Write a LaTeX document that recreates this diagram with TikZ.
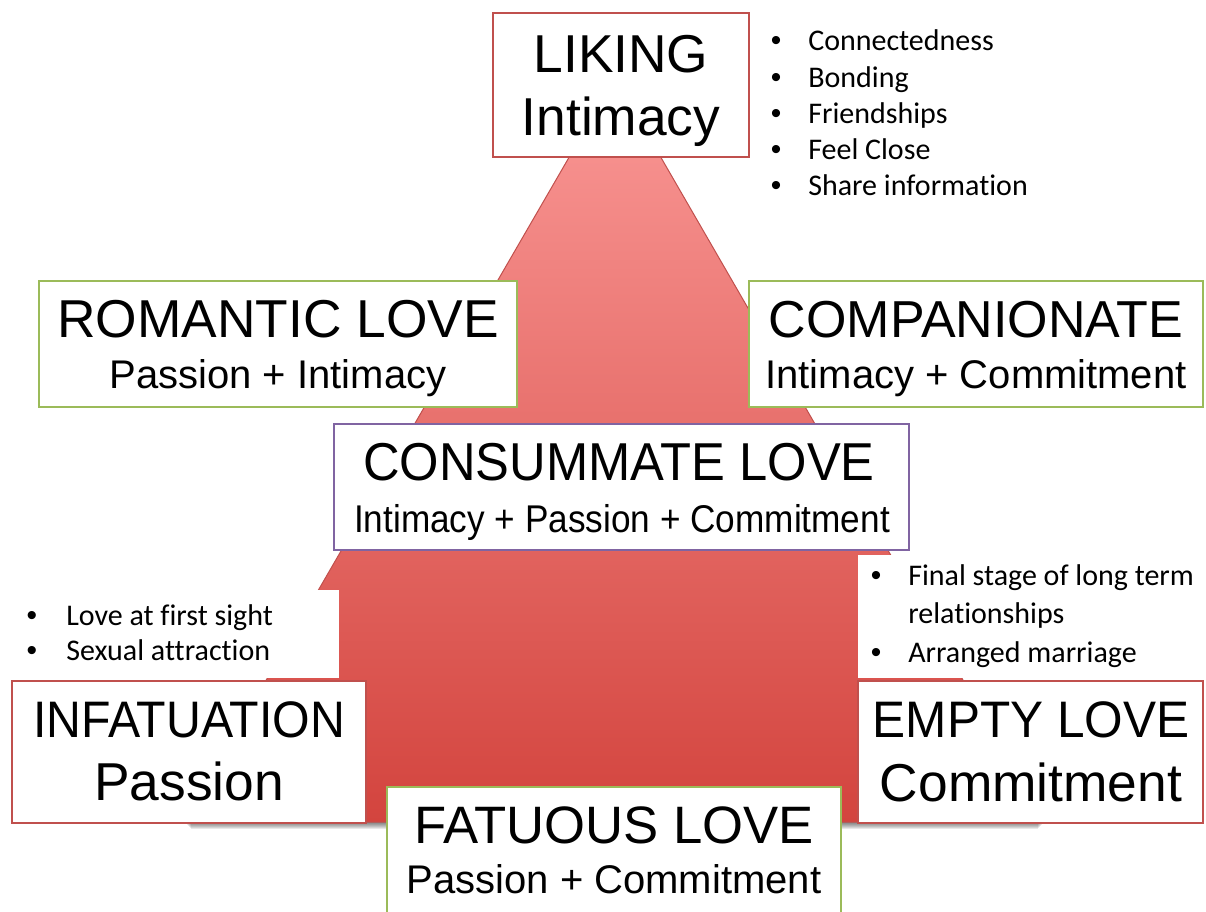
\documentclass[tikz,border=0pt]{standalone}
\usepackage{fontspec}
\setmainfont{Liberation Sans}
\newfontfamily\bulfont[Ligatures=NoCommon]{Carlito}
\usepackage{graphicx}
\usetikzlibrary{fit,calc}
\definecolor{boxred}{RGB}{192,80,77}
\definecolor{boxgreen}{RGB}{155,187,89}
\definecolor{boxpurple}{RGB}{128,100,162}
\definecolor{tritop}{RGB}{250,152,150}
\definecolor{trimid}{RGB}{240,128,128}
\definecolor{tribot}{RGB}{211,68,62}
\begin{document}
\begin{tikzpicture}[x=0.75pt,y=-0.75pt,
  box/.style={draw=#1, fill=white, line width=1.5pt, inner sep=0pt},
  big/.style={anchor=base, inner sep=0pt, font=\fontsize{40}{48}\selectfont},
  small/.style={anchor=base, inner sep=0pt, font=\fontsize{30}{36}\selectfont},
  bultxt/.style={anchor=base west, inner sep=0pt, font=\bulfont\fontsize{22.5}{27}\selectfont},
  buldot/.style={anchor=base, inner sep=0pt, font=\fontsize{22.5}{27}\selectfont}]
\useasboundingbox (0,0) rectangle (1206,911);
\clip (0,0) rectangle (1206,911);
% pyramid
\coordinate (apex) at (615,78);
\coordinate (bl) at (184,822);
\coordinate (br) at (1045,822);
\foreach \i in {1,...,7}{
  \fill[black, opacity=0.09] ($(bl)+(\i,0)$) rectangle ($(br)+(-\i,\i)$);
}
\shade[top color=tritop, middle color=trimid, bottom color=tribot, draw=boxred, line width=0.75pt]
  (apex) -- (br) -- (bl) -- cycle;
% white backgrounds of bullet lists
\fill[white] (0,590) rectangle (339,678);
\fill[white] (858,555) rectangle (1206,678);
% boxes
\node[box=boxred, fit={(493,13) (749,157)}] (liking) {};
\node[box=boxgreen, fit={(39,281) (517,407)}] (romantic) {};
\node[box=boxgreen, fit={(749,281) (1203,407)}] (companionate) {};
\node[box=boxpurple, fit={(334,424) (909,550)}] (consummate) {};
\node[box=boxred, fit={(12,681) (366,823)}] (infatuation) {};
\node[box=boxred, fit={(858,681) (1203,823)}] (empty) {};
\node[box=boxgreen, fit={(387,787) (841,930)}] (fatuous) {};
% box texts
\node[big] (likingA) at (621,72) {LIKING};
\node[big] (likingB) at (621,135) {Intimacy};
\node[big] (romanticA) at (278,337) {ROMANTIC LOVE};
\node[small] (romanticB) at (278,388) {Passion + Intimacy};
\node[big, font=\fontsize{39}{46}\selectfont] (companionateA) at (976,337) {COMPANIONATE};
\node[small] (companionateB) at (976,388) {Intimacy + Commitment};
\node[big] (consummateA) at (619,480) {\scalebox{0.95}[1]{CONSUMMATE LOVE}};
\node[small, font=\fontsize{29}{35}\selectfont] (consummateB) at (622,532) {\scalebox{0.91}[1]{Intimacy + Passion + Commitment}};
\node[big, font=\fontsize{38.5}{46}\selectfont] (infatuationA) at (189,737) {\scalebox{0.94}[1]{INFATUATION}};
\node[big] (infatuationB) at (189,800) {Passion};
\node[big, font=\fontsize{38.5}{46}\selectfont] (emptyA) at (1031,737) {\scalebox{0.965}[1]{EMPTY LOVE}};
\node[big] (emptyB) at (1031,801) {Commitment};
\node[big, font=\fontsize{39.5}{47}\selectfont] (fatuousA) at (614,843) {FATUOUS LOVE};
\node[small] (fatuousB) at (614,893) {Passion + Commitment};
% bullets top right
\foreach \y/\t [count=\k] in {50/Connectedness, 87/Bonding, 123/Friendships, 159/Feel Close, 195/Share information}{
  \node[buldot] (tdot\k) at (776,\y) {•};
  \node[bultxt] (ttxt\k) at (808,\y) {\t};
}
% bullets left
\node[buldot] (ldot1) at (32,625) {•};
\node[bultxt] (ltxt1) at (66,625) {Love at first sight};
\node[buldot] (ldot2) at (32,660) {•};
\node[bultxt] (ltxt2) at (66,660) {Sexual attraction};
% bullets right
\node[buldot] (rdot1) at (876,585) {•};
\node[bultxt] (rtxt1) at (908,585) {Final stage of long term};
\node[bultxt] (rtxt1b) at (908,623) {relationships};
\node[buldot] (rdot2) at (876,662) {•};
\node[bultxt] (rtxt2) at (908,662) {Arranged marriage};
\end{tikzpicture}
\end{document}
